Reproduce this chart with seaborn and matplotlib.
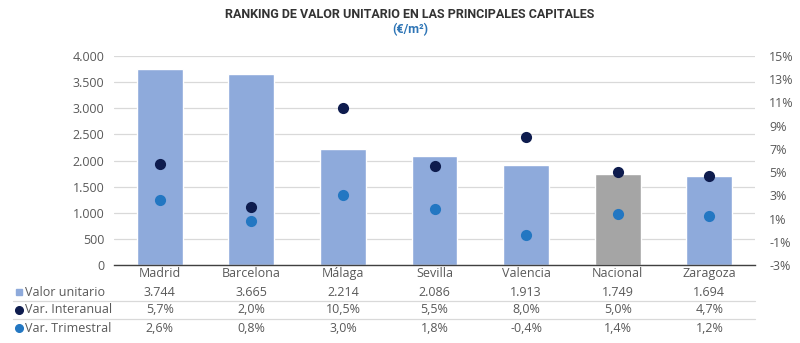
import matplotlib
matplotlib.use("Agg")
import matplotlib.pyplot as plt
import matplotlib.transforms as mtransforms
from matplotlib.lines import Line2D
import seaborn as sns
import pandas as pd

categories = ["Madrid", "Barcelona", "Málaga", "Sevilla", "Valencia", "Nacional", "Zaragoza"]
valor_unitario = [3744, 3665, 2214, 2086, 1913, 1749, 1694]
var_interanual = [5.7, 2.0, 10.5, 5.5, 8.0, 5.0, 4.7]
var_trimestral = [2.6, 0.8, 3.0, 1.8, -0.4, 1.4, 1.2]
valor_labels = ["3.744", "3.665", "2.214", "2.086", "1.913", "1.749", "1.694"]
inter_labels = ["5,7%", "2,0%", "10,5%", "5,5%", "8,0%", "5,0%", "4,7%"]
trim_labels = ["2,6%", "0,8%", "3,0%", "1,8%", "-0,4%", "1,4%", "1,2%"]
left_ticks = [0, 500, 1000, 1500, 2000, 2500, 3000, 3500, 4000]
left_tick_labels = ["0", "500", "1.000", "1.500", "2.000", "2.500", "3.000", "3.500", "4.000"]
right_ticks = [-3, -1, 1, 3, 5, 7, 9, 11, 13, 15]
right_tick_labels = ["-3%", "-1%", "1%", "3%", "5%", "7%", "9%", "11%", "13%", "15%"]
row_names = ["Valor unitario", "Var. Interanual", "Var. Trimestral"]

BAR = "#8eaadb"
GRAY_BAR = "#a5a5a5"
DARK = "#0e1c4e"
LIGHT = "#2377c2"
TXT = "#595959"

sns.set_theme(style="white")
plt.rcParams["font.family"] = ["Open Sans", "DejaVu Sans"]

df = pd.DataFrame({"cat": categories, "valor": valor_unitario,
                   "inter": var_interanual, "trim": var_trimestral})
palette = {c: (GRAY_BAR if c == "Nacional" else BAR) for c in categories}

fig = plt.figure(figsize=(8, 3.43), dpi=100)
ax = fig.add_axes([0.1425, 0.2274, 0.8015, 0.6093])
sns.barplot(data=df, x="cat", y="valor", hue="cat", palette=palette, legend=False,
            width=0.5, ax=ax, saturation=1)
ax.set_ylim(0, 4000)
ax.set_xlim(-0.5, len(categories) - 0.5)
ax.set_yticks(left_ticks)
ax.set_yticklabels(left_tick_labels, color=TXT, fontsize=9)
ax.tick_params(axis="y", length=0, pad=7)
ax.set_xlabel("")
ax.set_ylabel("")
ax.set_xticks(range(len(categories)))
ax.set_xticklabels(categories, color=TXT, fontsize=9)
ax.tick_params(axis="x", length=0, pad=1.5)
ax.grid(axis="y", color="#d9d9d9", linewidth=0.9)
ax.set_axisbelow(True)
for s in ["top", "right", "left"]:
    ax.spines[s].set_visible(False)
ax.spines["bottom"].set_color("#404040")
ax.spines["bottom"].set_linewidth(1.0)

ax2 = ax.twinx()
sns.pointplot(data=df, x="cat", y="inter", linestyle="none", color=DARK,
              markers="o", markersize=6, ax=ax2, errorbar=None)
sns.pointplot(data=df, x="cat", y="trim", linestyle="none", color=LIGHT,
              markers="o", markersize=6, ax=ax2, errorbar=None)
ax2.set_ylim(-3, 15)
ax2.set_xlim(-0.5, len(categories) - 0.5)
ax2.set_yticks(right_ticks)
ax2.set_yticklabels(right_tick_labels, color=TXT, fontsize=9)
ax2.tick_params(axis="y", length=0, pad=10)
ax2.set_ylabel("")
ax2.set_xlabel("")
for s in ax2.spines.values():
    s.set_visible(False)

# data table
trans = mtransforms.blended_transform_factory(ax.transData, fig.transFigure)
rows_y = [1 - 292 / 343, 1 - 309.5 / 343, 1 - 328 / 343]
for ry, labels in zip(rows_y, [valor_labels, inter_labels, trim_labels]):
    for i, lab in enumerate(labels):
        fig.text(i, ry, lab, transform=trans, ha="center", va="center",
                 fontsize=9, color=TXT)

marker_styles = [("s", BAR), ("o", DARK), ("o", LIGHT)]
for ry, name, (m, c) in zip(rows_y, row_names, marker_styles):
    fig.add_artist(Line2D([19 / 800], [ry], marker=m, color=c, markersize=5 if m == "s" else 5.5,
                          linestyle="none", transform=fig.transFigure))
    fig.text(25 / 800, ry, name, ha="left", va="center", fontsize=9, color=TXT)

for ly in [1 - 301 / 343, 1 - 319 / 343]:
    fig.add_artist(Line2D([13 / 800, 755 / 800], [ly, ly], color="#d9d9d9",
                          linewidth=0.9, transform=fig.transFigure))

fig.text(410 / 800, 1 - 14 / 343, "RANKING DE VALOR UNITARIO EN LAS PRINCIPALES CAPITALES",
         ha="center", va="center", fontsize=9, fontweight="bold", color="#333333",
         family=["Roboto", "DejaVu Sans"])
fig.text(410 / 800, 1 - 30 / 343, "(€/m²)", ha="center", va="center", fontsize=9,
         fontweight="bold", color="#2e75b6", family=["Roboto", "DejaVu Sans"])

fig.savefig("out.png", dpi=100)
